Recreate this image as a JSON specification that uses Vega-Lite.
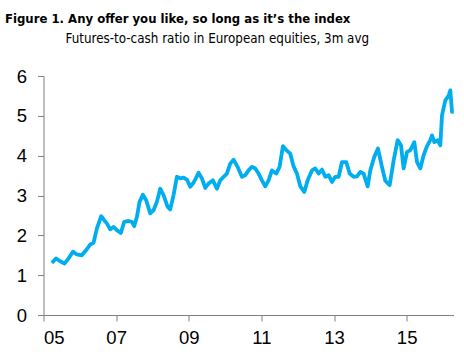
{
  "$schema": "https://vega.github.io/schema/vega-lite/v6.json",
  "autosize": "none",
  "width": 410,
  "height": 239,
  "padding": {"left": 43.5, "top": 76, "right": 10.5, "bottom": 46},
  "background": "white",
  "title": {
    "text": "Figure 1. Any offer you like, so long as it’s the index",
    "anchor": "start",
    "frame": "group",
    "font": "DejaVu Sans Condensed",
    "fontSize": 13,
    "fontWeight": "bold",
    "color": "#000000",
    "dx": -38.5,
    "offset": 5
  },
  "config": {
    "view": {"stroke": null},
    "axis": {
      "labelFont": "Liberation Sans",
      "labelFontSize": 18.5,
      "labelColor": "#000000",
      "domainColor": "#808080",
      "tickColor": "#808080",
      "tickSize": 6,
      "grid": false
    }
  },
  "data": {
    "values": [
      {"year": 2005.23, "ratio": 1.31},
      {"year": 2005.349, "ratio": 1.42},
      {"year": 2005.459, "ratio": 1.35},
      {"year": 2005.579, "ratio": 1.29},
      {"year": 2005.689, "ratio": 1.42},
      {"year": 2005.808, "ratio": 1.59},
      {"year": 2005.918, "ratio": 1.52},
      {"year": 2006.056, "ratio": 1.5},
      {"year": 2006.175, "ratio": 1.63},
      {"year": 2006.286, "ratio": 1.77},
      {"year": 2006.377, "ratio": 1.81},
      {"year": 2006.469, "ratio": 2.17},
      {"year": 2006.589, "ratio": 2.48},
      {"year": 2006.671, "ratio": 2.38},
      {"year": 2006.745, "ratio": 2.3},
      {"year": 2006.837, "ratio": 2.15},
      {"year": 2006.928, "ratio": 2.21},
      {"year": 2007.02, "ratio": 2.13},
      {"year": 2007.13, "ratio": 2.06},
      {"year": 2007.222, "ratio": 2.34},
      {"year": 2007.342, "ratio": 2.36},
      {"year": 2007.433, "ratio": 2.34},
      {"year": 2007.498, "ratio": 2.23},
      {"year": 2007.571, "ratio": 2.46},
      {"year": 2007.645, "ratio": 2.84},
      {"year": 2007.736, "ratio": 3.02},
      {"year": 2007.828, "ratio": 2.88},
      {"year": 2007.938, "ratio": 2.55},
      {"year": 2008.03, "ratio": 2.63},
      {"year": 2008.122, "ratio": 2.84},
      {"year": 2008.214, "ratio": 3.17},
      {"year": 2008.306, "ratio": 3.01},
      {"year": 2008.416, "ratio": 2.72},
      {"year": 2008.489, "ratio": 2.65},
      {"year": 2008.581, "ratio": 3.01},
      {"year": 2008.673, "ratio": 3.47},
      {"year": 2008.765, "ratio": 3.43},
      {"year": 2008.857, "ratio": 3.45},
      {"year": 2008.949, "ratio": 3.4},
      {"year": 2009.04, "ratio": 3.22},
      {"year": 2009.132, "ratio": 3.32},
      {"year": 2009.27, "ratio": 3.57},
      {"year": 2009.362, "ratio": 3.43},
      {"year": 2009.454, "ratio": 3.19},
      {"year": 2009.545, "ratio": 3.3},
      {"year": 2009.665, "ratio": 3.38},
      {"year": 2009.775, "ratio": 3.17},
      {"year": 2009.867, "ratio": 3.38},
      {"year": 2009.959, "ratio": 3.47},
      {"year": 2010.05, "ratio": 3.55},
      {"year": 2010.142, "ratio": 3.8},
      {"year": 2010.234, "ratio": 3.9},
      {"year": 2010.344, "ratio": 3.72},
      {"year": 2010.464, "ratio": 3.47},
      {"year": 2010.556, "ratio": 3.51},
      {"year": 2010.647, "ratio": 3.63},
      {"year": 2010.739, "ratio": 3.72},
      {"year": 2010.831, "ratio": 3.68},
      {"year": 2010.923, "ratio": 3.55},
      {"year": 2011.015, "ratio": 3.38},
      {"year": 2011.106, "ratio": 3.23},
      {"year": 2011.198, "ratio": 3.38},
      {"year": 2011.29, "ratio": 3.63},
      {"year": 2011.409, "ratio": 3.55},
      {"year": 2011.501, "ratio": 3.72},
      {"year": 2011.593, "ratio": 4.24},
      {"year": 2011.685, "ratio": 4.14},
      {"year": 2011.795, "ratio": 4.05},
      {"year": 2011.887, "ratio": 3.73},
      {"year": 2011.979, "ratio": 3.55},
      {"year": 2012.071, "ratio": 3.23},
      {"year": 2012.181, "ratio": 3.09},
      {"year": 2012.273, "ratio": 3.38},
      {"year": 2012.392, "ratio": 3.63},
      {"year": 2012.484, "ratio": 3.68},
      {"year": 2012.576, "ratio": 3.55},
      {"year": 2012.668, "ratio": 3.65},
      {"year": 2012.76, "ratio": 3.47},
      {"year": 2012.851, "ratio": 3.51},
      {"year": 2012.943, "ratio": 3.34},
      {"year": 2013.035, "ratio": 3.47},
      {"year": 2013.127, "ratio": 3.47},
      {"year": 2013.219, "ratio": 3.84},
      {"year": 2013.338, "ratio": 3.84},
      {"year": 2013.43, "ratio": 3.55},
      {"year": 2013.54, "ratio": 3.47},
      {"year": 2013.632, "ratio": 3.48},
      {"year": 2013.724, "ratio": 3.59},
      {"year": 2013.815, "ratio": 3.55},
      {"year": 2013.926, "ratio": 3.23},
      {"year": 2013.999, "ratio": 3.63},
      {"year": 2014.109, "ratio": 3.97},
      {"year": 2014.21, "ratio": 4.18},
      {"year": 2014.32, "ratio": 3.72},
      {"year": 2014.412, "ratio": 3.37},
      {"year": 2014.532, "ratio": 3.26},
      {"year": 2014.642, "ratio": 3.88},
      {"year": 2014.752, "ratio": 4.39},
      {"year": 2014.844, "ratio": 4.26},
      {"year": 2014.917, "ratio": 3.68},
      {"year": 2015.009, "ratio": 4.09},
      {"year": 2015.101, "ratio": 4.14},
      {"year": 2015.211, "ratio": 4.34},
      {"year": 2015.285, "ratio": 3.84},
      {"year": 2015.376, "ratio": 3.68},
      {"year": 2015.468, "ratio": 4.01},
      {"year": 2015.56, "ratio": 4.24},
      {"year": 2015.652, "ratio": 4.39},
      {"year": 2015.698, "ratio": 4.51},
      {"year": 2015.762, "ratio": 4.34},
      {"year": 2015.854, "ratio": 4.39},
      {"year": 2015.927, "ratio": 4.26},
      {"year": 2015.973, "ratio": 5.01},
      {"year": 2016.065, "ratio": 5.39},
      {"year": 2016.157, "ratio": 5.51},
      {"year": 2016.203, "ratio": 5.64},
      {"year": 2016.249, "ratio": 5.1},
      {"year": 2016.295, "ratio": 5.1}
    ]
  },
  "mark": {"type": "line", "color": "#00AEEF", "strokeWidth": 3.8, "strokeJoin": "round"},
  "encoding": {
    "x": {
      "field": "year",
      "type": "quantitative",
      "scale": {"domain": [2005, 2016.29], "nice": false, "zero": false},
      "axis": {
        "title": null,
        "values": [2005, 2007, 2009, 2011, 2013, 2015],
        "labelExpr": "substring(toString(datum.value), 2, 4)",
        "labelPadding": 7
      }
    },
    "y": {
      "field": "ratio",
      "type": "quantitative",
      "scale": {"domain": [0, 6], "nice": false},
      "axis": {
        "values": [0, 1, 2, 3, 4, 5, 6],
        "labelPadding": 11,
        "title": "Futures-to-cash ratio in European equities, 3m avg",
        "titleFont": "DejaVu Sans Condensed",
        "titleFontSize": 13.3,
        "titleFontWeight": "normal",
        "titleColor": "#000000",
        "titleAngle": 0,
        "titleAlign": "left",
        "titleBaseline": "alphabetic",
        "titleX": 21.5,
        "titleY": -34
      }
    }
  }
}
